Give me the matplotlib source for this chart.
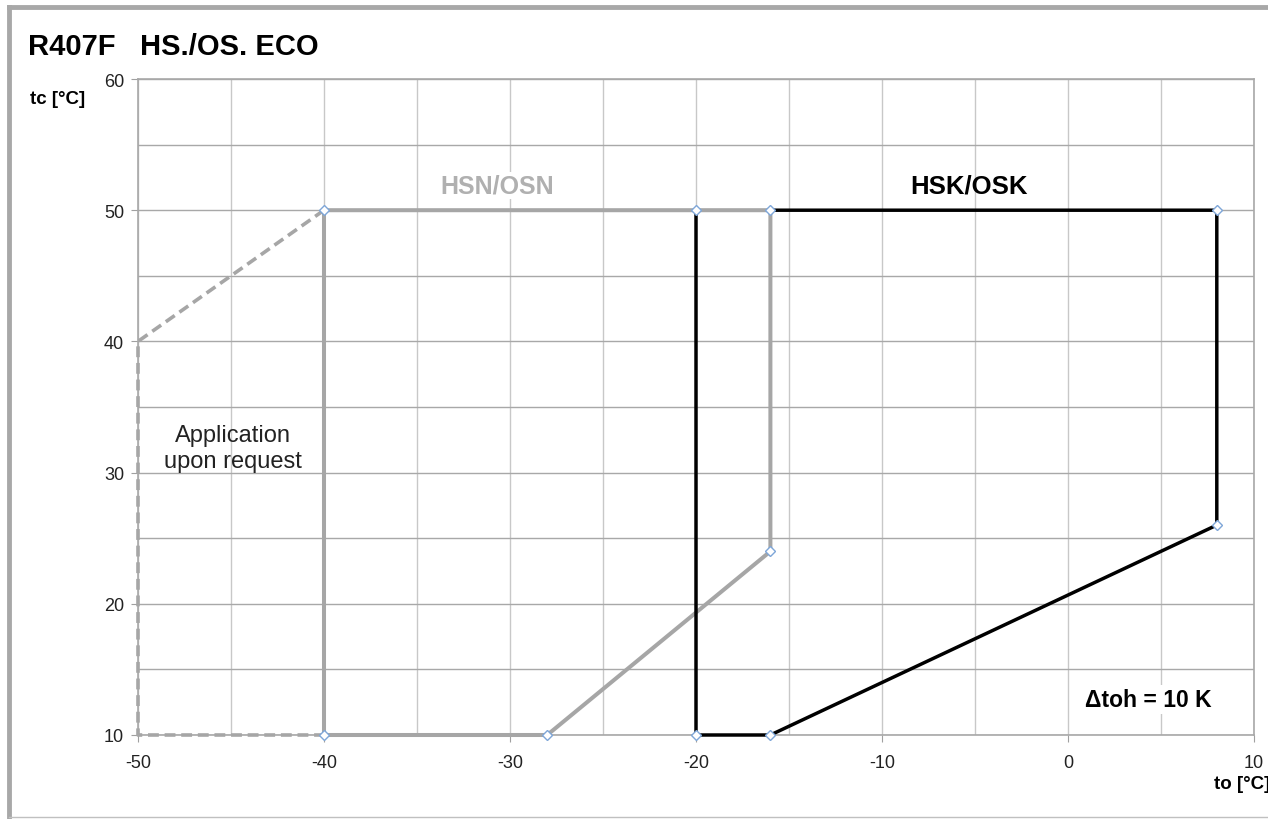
import matplotlib
matplotlib.use("Agg")
import matplotlib.pyplot as plt
from matplotlib.lines import Line2D

plt.rcParams['font.family'] = ['Liberation Sans', 'DejaVu Sans']
plt.rcParams['axes.unicode_minus'] = False

# Operating envelope HSN/OSN (to, tc)
hsn_to = [-40, -28, -16, -16, -40, -40]
hsn_tc = [10, 10, 24, 50, 50, 10]

# Extended region "application upon request"
ext_to = [-40, -50, -50, -40, -40]
ext_tc = [50, 40, 10, 10, 50]

# Operating envelope HSK/OSK (top edge left of -16 is shared with HSN/OSN)
hsk_to = [-16, 8, 8, -16, -20, -20]
hsk_tc = [50, 50, 26, 10, 10, 50]

# Corner markers
mk_to = [-40, -28, -16, -16, -40, -20, -20, -16, 8, 8]
mk_tc = [10, 10, 24, 50, 50, 50, 10, 10, 26, 50]

x_ticks = [-50, -40, -30, -20, -10, 0, 10]
y_ticks = [10, 20, 30, 40, 50, 60]

fig = plt.figure(figsize=(12.68, 8.2), dpi=100)
ax = fig.add_axes([138 / 1268, 1 - 736 / 820, (1254 - 138) / 1268, (736 - 80) / 820])

ax.set_xlim(-50, 10)
ax.set_ylim(10, 60)
ax.set_xticks(x_ticks)
ax.set_yticks(y_ticks)
ax.set_xticks([-45, -35, -25, -15, -5, 5], minor=True)
ax.set_yticks([15, 25, 35, 45, 55], minor=True)
ax.tick_params(which='minor', length=0)
ax.tick_params(which='major', length=5, color='#a0a0a0', labelsize=13,
               labelcolor='#222222')
ax.tick_params(axis='x', which='major', pad=9)
ax.tick_params(axis='y', which='major', pad=5)
ax.xaxis.grid(True, which='both', color='#c8c8c8', lw=1.0)
ax.yaxis.grid(True, which='both', color='#a8a8a8', lw=1.0)
ax.set_axisbelow(True)
for sp in ax.spines.values():
    sp.set_color('#a8a8a8')
    sp.set_linewidth(1.2)

grey = '#a6a6a6'
ax.plot(ext_to, ext_tc, color=grey, lw=2.6, ls=(0, (3, 1.6)), zorder=3, clip_on=False)
ax.plot(hsk_to, hsk_tc, color='black', lw=2.5, zorder=5, solid_joinstyle='miter', clip_on=False)
ax.plot(hsn_to, hsn_tc, color=grey, lw=2.9, zorder=4, solid_joinstyle='miter', clip_on=False)
ax.plot(mk_to, mk_tc, ls='none', marker='D', ms=5, mfc='white', mec='#7ea6d8',
        mew=1.0, zorder=6, clip_on=False)

ax.text(-30.7, 51.85, 'HSN/OSN', color='#b0b0b0', fontsize=18, fontweight='bold',
        ha='center', va='center', zorder=7,
        bbox=dict(facecolor='white', edgecolor='none', pad=1))
ax.text(-5.3, 51.9, 'HSK/OSK', color='black', fontsize=18.5, fontweight='bold',
        ha='center', va='center', zorder=7)
ax.text(-44.9, 31.9, 'Application\nupon request', color='#222222', fontsize=17,
        ha='center', va='center', linespacing=1.25, zorder=7)
ax.text(4.3, 12.7, '\u0394toh = 10 K', color='black', fontsize=16.5, fontweight='bold',
        ha='center', va='center', zorder=7,
        bbox=dict(facecolor='white', edgecolor='none', pad=2))

fig.text(28 / 1268, 1 - 47 / 820, 'R407F   HS./OS. ECO', fontsize=21, fontweight='bold',
         ha='left', va='center')
fig.text(30 / 1268, 1 - 100 / 820, 'tc [\u00b0C]', fontsize=13.5, fontweight='bold',
         ha='left', va='center')
fig.text(1270 / 1268, 1 - 785 / 820, 'to [\u00b0C]', fontsize=13.5, fontweight='bold',
         ha='right', va='center')

# Outer frame
fig.add_artist(Line2D([9 / 1268, 9 / 1268], [1 - 8 / 820, 1 - 818 / 820],
                      transform=fig.transFigure, color='#a8a8a8', lw=3.5))
fig.add_artist(Line2D([9 / 1268, 1.0], [1 - 8 / 820, 1 - 8 / 820],
                      transform=fig.transFigure, color='#a8a8a8', lw=3.5))
fig.add_artist(Line2D([9 / 1268, 1.0], [1 - 818 / 820, 1 - 818 / 820],
                      transform=fig.transFigure, color='#c0c0c0', lw=1.0))

fig.savefig('out.png', dpi=100)
